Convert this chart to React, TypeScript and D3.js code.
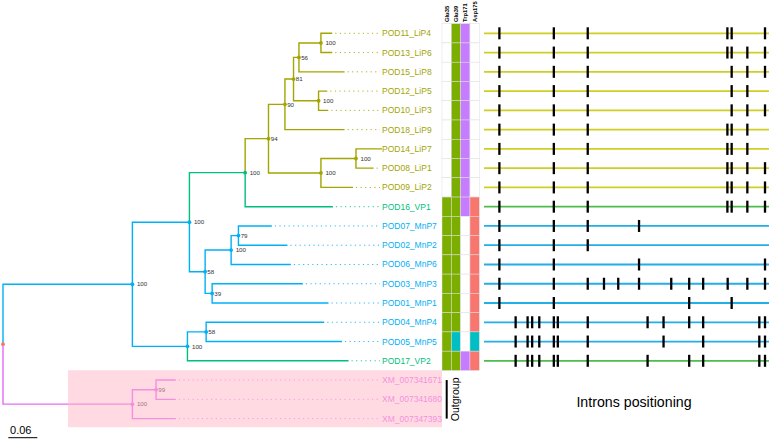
import React from "react";
import * as d3 from "d3";

const W = 771;
const H = 440;

// Tree: [id, parent, branch length (subst./site), bootstrap, clade]
const treeNodes: [string, string, number, number | null, string][] = [
  ["root", "", 0, null, "root"],
  ["n_in", "root", 0.2677, 100, "MnP"],
  ["n_up", "n_in", 0.118, 100, "MnP"],
  ["n_vpli", "n_up", 0.1153, 100, "VP"],
  ["n_F", "n_vpli", 0.0483, 94, "LiP"],
  ["n_E", "n_F", 0.034, 90, "LiP"],
  ["n_C", "n_E", 0.0178, 81, "LiP"],
  ["n_B", "n_C", 0.0112, 56, "LiP"],
  ["n_A", "n_B", 0.0455, 100, "LiP"],
  ["POD11_LiP4", "n_A", 0.0234, null, "LiP"],
  ["POD13_LiP6", "n_A", 0.0234, null, "LiP"],
  ["POD15_LiP8", "n_B", 0.0944, null, "LiP"],
  ["n_D", "n_C", 0.0518, 100, "LiP"],
  ["POD12_LiP5", "n_D", 0.018, null, "LiP"],
  ["POD10_LiP3", "n_D", 0.02, null, "LiP"],
  ["POD18_LiP9", "n_E", 0.1234, null, "LiP"],
  ["n_G", "n_F", 0.1085, 100, "LiP"],
  ["n_H", "n_G", 0.0725, 100, "LiP"],
  ["POD14_LiP7", "n_H", 0.0538, null, "LiP"],
  ["POD08_LiP1", "n_H", 0.0364, null, "LiP"],
  ["POD09_LiP2", "n_G", 0.0663, null, "LiP"],
  ["POD16_VP1", "n_vpli", 0.1816, null, "VP"],
  ["n_M58", "n_up", 0.0325, 58, "MnP"],
  ["n_M100", "n_M58", 0.0538, 100, "MnP"],
  ["n_M79", "n_M100", 0.0151, 79, "MnP"],
  ["POD07_MnP7", "n_M79", 0.0691, null, "MnP"],
  ["POD02_MnP2", "n_M79", 0.1014, null, "MnP"],
  ["POD06_MnP6", "n_M100", 0.1236, null, "MnP"],
  ["n_M39", "n_M58", 0.0145, 39, "MnP"],
  ["POD03_MnP3", "n_M39", 0.1877, null, "MnP"],
  ["POD01_MnP1", "n_M39", 0.2408, null, "MnP"],
  ["n_lo", "n_in", 0.1139, 100, "MnP"],
  ["n_L58", "n_lo", 0.0387, 58, "MnP"],
  ["POD04_MnP4", "n_L58", 0.2443, null, "MnP"],
  ["POD05_MnP5", "n_L58", 0.2809, null, "MnP"],
  ["POD17_VP2", "n_lo", 0.3333, null, "VP"],
  ["n_out", "root", 0.2677, 100, "Out"],
  ["n_O99", "n_out", 0.049, 99, "Out"],
  ["XM_007341671", "n_O99", 0.0408, null, "Out"],
  ["XM_007341680", "n_O99", 0.0408, null, "Out"],
  ["XM_007347393", "n_out", 0.0899, null, "Out"],
];

const cladeNames = ["root", "LiP", "VP", "MnP", "Out"];
const cladeColors = ["#F8766D", "#A3A500", "#00BF7D", "#00B0F6", "#E76BF3"];

// Key residues heatmap (ingroup tips, in tree order)
const residueColumns = ["Glu35", "Glu39", "Trp171", "Asp175"];
const glu35 = ["", "", "", "", "", "", "", "", "", "Glu", "Glu", "Glu", "Glu", "Glu", "Glu", "Glu", "Glu", "Glu"];
const glu39 = ["Glu", "Glu", "Glu", "Glu", "Glu", "Glu", "Glu", "Glu", "Glu", "Glu", "Glu", "Glu", "Glu", "Glu", "Glu", "Glu", "Other", "Glu"];
const trp171 = ["Trp", "Trp", "Trp", "Trp", "Trp", "Trp", "Trp", "Trp", "Trp", "Trp", "", "", "", "", "", "", "", "Trp"];
const asp175 = ["", "", "", "", "", "", "", "", "", "Asp", "Asp", "Asp", "Asp", "Asp", "Asp", "Asp", "Other", "Asp"];
const residueKeys = ["Asp", "Glu", "Other", "Trp"];
const residueColors = ["#F8766D", "#7CAE00", "#00BFC4", "#C77CFF"];

// Intron positions (relative position along the gene, 0-100), ingroup tips in tree order
const intronPositions: number[][] = [
  [5.4, 24.5, 36.4, 85.4, 86.9, 98.6],
  [5.4, 24.5, 36.4, 85.4, 86.9, 92.4, 98.6],
  [5.4, 24.5, 36.4, 86.9, 92.4, 98.6],
  [5.4, 24.5, 36.4, 86.9, 92.4],
  [5.4, 24.5, 36.4, 86.9, 92.4, 98.6],
  [5.4, 24.5, 36.4, 85.4, 86.9, 92.4],
  [5.4, 24.5, 36.4, 85.4, 86.9, 92.4],
  [5.4, 24.5, 36.4, 85.4, 86.9, 92.4, 98.6],
  [5.4, 24.5, 36.4, 85.4, 86.9, 92.4, 98.6],
  [5.4, 24.5, 36.4, 85.4, 86.9, 92.4, 98.6],
  [5.4, 24.5, 36.4, 54.4],
  [5.4, 24.5, 36.4],
  [5.4, 24.5, 54.4, 98.6],
  [5.4, 24.5, 36.4, 42.1, 47.1, 54.4, 65.7, 72.0, 76.9, 85.5, 92.4, 98.6],
  [5.4, 24.5, 72.0, 86.9],
  [11.1, 15.3, 16.9, 19.4, 24.5, 25.9, 36.4, 57.4, 63.0, 72.0, 76.9, 96.6, 98.6],
  [11.1, 15.3, 16.9, 19.4, 24.5, 25.9, 36.4, 63.0, 76.9, 96.6, 98.6],
  [11.1, 15.3, 16.9, 19.4, 24.5, 25.9, 36.4, 57.4, 72.0, 76.9, 96.6, 98.6],
];
const intronLineClades = ["LiP", "VP", "MnP"];
const intronLineColors = ["#CFCF22", "#4DBD4D", "#22AEE6"];

const scaleBarValue = 0.06;

const FONT = "'Liberation Sans', Arial, Helvetica, sans-serif";

export default function App() {
  const root = d3
    .stratify<[string, string, number, number | null, string]>()
    .id((d) => d[0])
    .parentId((d) => (d[1] === "" ? null : d[1]))(treeNodes);

  const xTree = d3.scaleLinear().domain([0, scaleBarValue]).range([3, 32]);
  const leaves = root.leaves();
  const yRow = d3.scaleLinear().domain([0, leaves.length - 1]).range([33.3, 418.6]);
  const rowH = yRow(1) - yRow(0);

  const cladeColor = d3.scaleOrdinal<string, string>().domain(cladeNames).range(cladeColors);
  const resColor = d3.scaleOrdinal<string, string>().domain(residueKeys).range(residueColors);
  const intronColor = d3.scaleOrdinal<string, string>().domain(intronLineClades).range(intronLineColors);

  const pos = new Map<string, { x: number; y: number; dist: number }>();
  root.eachBefore((n: any) => {
    const dist = n.parent ? pos.get(n.parent.id)!.dist + n.data[2] : 0;
    pos.set(n.id, { x: xTree(dist), y: 0, dist });
  });
  leaves.forEach((l: any, i: number) => {
    pos.get(l.id)!.y = yRow(i);
  });
  root.eachAfter((n: any) => {
    if (n.children) {
      pos.get(n.id)!.y = d3.mean(n.children, (c: any) => pos.get(c.id)!.y) as number;
    }
  });

  const nodes = root.descendants();
  const labelX = 382;
  const dotsEnd = 380;

  const xHeat = d3.scaleBand().domain(residueColumns).range([442, 479.3]);
  const heatData = [glu35, glu39, trp171, asp175];
  const ingroupLeaves = leaves.filter((l: any) => l.data[4] !== "Out");

  const xIntron = d3.scaleLinear().domain([0, 100]).range([484, 769]);

  const outLeaves = leaves.filter((l: any) => l.data[4] === "Out");
  const outTop = pos.get(outLeaves[0].id)!.y;
  const outBottom = pos.get(outLeaves[outLeaves.length - 1].id)!.y;

  return (
    <div style={{ position: "absolute", left: 0, top: 0 }}>
      <svg width={W} height={H} style={{ display: "block", fontFamily: FONT }}>
        <rect width={W} height={H} fill="#ffffff" />
        {/* tree edges */}
        <g fill="none" strokeWidth={1.4}>
          {nodes
            .filter((n: any) => n.parent)
            .map((n: any) => {
              const p = pos.get(n.parent.id)!;
              const c = pos.get(n.id)!;
              return (
                <path
                  key={"e" + n.id}
                  d={`M${p.x},${p.y}V${c.y}H${c.x}`}
                  stroke={cladeColor(n.data[4])}
                />
              );
            })}
        </g>
        {/* dotted leaders */}
        <g strokeWidth={1} strokeDasharray="1.2 3.4">
          {leaves.map((l: any) => {
            const c = pos.get(l.id)!;
            if (c.x >= dotsEnd - 1) return null;
            return (
              <line
                key={"d" + l.id}
                x1={c.x + 3}
                x2={dotsEnd}
                y1={c.y}
                y2={c.y}
                stroke={cladeColor(l.data[4])}
                strokeOpacity={0.85}
              />
            );
          })}
        </g>
        {/* node points */}
        {nodes
          .filter((n: any) => n.children)
          .map((n: any) => {
            const c = pos.get(n.id)!;
            return <circle key={"p" + n.id} cx={c.x} cy={c.y} r={1.9} fill={cladeColor(n.data[4])} />;
          })}
        {/* bootstrap values */}
        {nodes
          .filter((n: any) => n.data[3] !== null)
          .map((n: any) => {
            const c = pos.get(n.id)!;
            const s = String(n.data[3]);
            return (
              <text
                key={"b" + n.id}
                x={c.x + (s.length === 3 ? 4.5 : 2.2)}
                y={c.y}
                dy="0.35em"
                fontSize={6.2}
                fill="#333333"
              >
                {s}
              </text>
            );
          })}
        {/* tip labels */}
        {leaves.map((l: any) => {
          const c = pos.get(l.id)!;
          return (
            <text
              key={"t" + l.id}
              x={labelX}
              y={c.y}
              dy="0.35em"
              fontSize={8.5}
              fill={cladeColor(l.data[4])}
            >
              {l.id}
            </text>
          );
        })}
        {/* outgroup highlight */}
        <rect
          x={68}
          y={outTop - rowH / 2 - 0.2}
          width={442 - 68}
          height={outBottom - outTop + rowH - 0.8}
          fill="#FFB6C8"
          fillOpacity={0.5}
        />
        {/* heatmap */}
        <g>
          {heatData.map((col, ci) =>
            ingroupLeaves.map((l: any, ri: number) => {
              const c = pos.get(l.id)!;
              const v = col[ri];
              return (
                <rect
                  key={"h" + ci + "_" + ri}
                  x={xHeat(residueColumns[ci])}
                  y={c.y - rowH / 2}
                  width={xHeat.bandwidth()}
                  height={rowH}
                  fill={v ? resColor(v) : "#ffffff"}
                  stroke="#dddddd"
                  strokeWidth={0.5}
                />
              );
            })
          )}
          {residueColumns.map((name) => (
            <text
              key={"hc" + name}
              transform={`translate(${(xHeat(name) as number) + xHeat.bandwidth() / 2},22) rotate(-90)`}
              dy="0.35em"
              fontSize={5.8}
              fontWeight="bold"
              fill="#000000"
            >
              {name}
            </text>
          ))}
        </g>
        {/* outgroup bracket */}
        <line x1={446.7} x2={446.7} y1={outTop} y2={outBottom} stroke="#000000" strokeWidth={2} />
        <text
          transform={`translate(455,${(outTop + outBottom) / 2}) rotate(-90)`}
          textAnchor="middle"
          dy="0.35em"
          fontSize={10.5}
          fill="#000000"
        >
          Outgroup
        </text>
        {/* intron positions */}
        {ingroupLeaves.map((l: any, ri: number) => {
          const c = pos.get(l.id)!;
          return (
            <g key={"i" + l.id}>
              <line
                x1={xIntron(0)}
                x2={xIntron(100)}
                y1={c.y}
                y2={c.y}
                stroke={intronColor(l.data[4])}
                strokeWidth={1.8}
              />
              {intronPositions[ri].map((p, k) => (
                <rect
                  key={k}
                  x={xIntron(p) - 1.15}
                  y={c.y - 6}
                  width={2.3}
                  height={12}
                  fill="#000000"
                />
              ))}
            </g>
          );
        })}
        <text x={634} y={407} textAnchor="middle" fontSize={14.2} fill="#000000">
          Introns positioning
        </text>
        {/* scale bar */}
        <line
          x1={8.3}
          x2={8.3 + xTree(scaleBarValue) - xTree(0)}
          y1={437.7}
          y2={437.7}
          stroke="#000000"
          strokeWidth={1}
        />
        <text x={8.3 + (xTree(scaleBarValue) - xTree(0)) / 2 - 2} y={434} textAnchor="middle" fontSize={11} fill="#000000">
          {String(scaleBarValue)}
        </text>
      </svg>
    </div>
  );
}
